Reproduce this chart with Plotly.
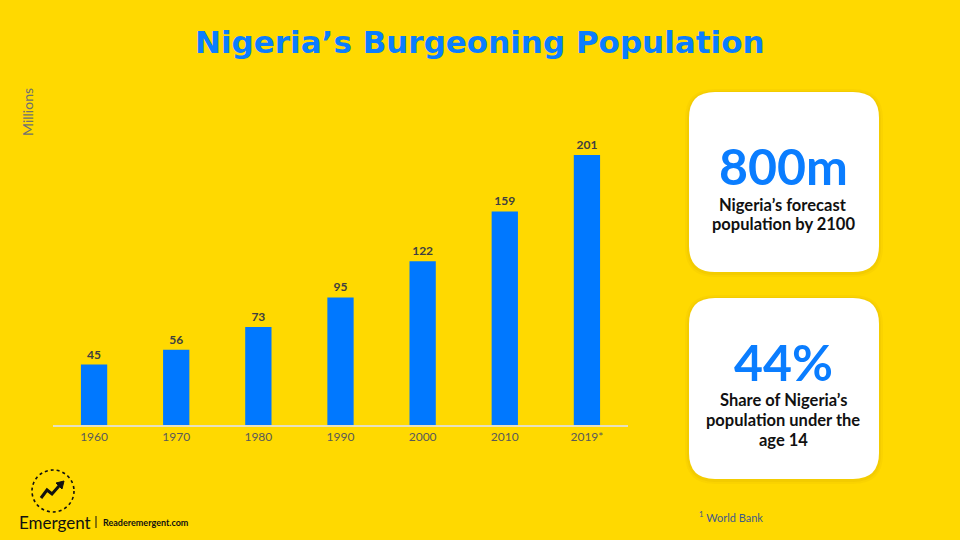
import plotly.graph_objects as go

years = ["1960", "1970", "1980", "1990", "2000", "2010", "2019*"]
population = [45, 56, 73, 95, 122, 159, 201]

title_text = "Nigeria’s Burgeoning Population"
card1_big = "800m"
card1_lines = ["Nigeria’s forecast", "population by 2100"]
card2_big = "44%"
card2_lines = ["Share of Nigeria’s", "population under the", "age 14"]

W, H = 960, 540
BG = "#FFD900"
BLUE = "#0A7DFF"
BAR_BLUE = "#0078FF"


def px(x):
    return x / W


def py(y):
    return 1 - y / H


def rounded_rect(x0, y0, x1, y1, r):
    X0, X1 = px(x0), px(x1)
    Y0, Y1 = py(y0), py(y1)
    rx, ry = r / W, r / H
    return (f"M {X0+rx},{Y0} L {X1-rx},{Y0} Q {X1},{Y0} {X1},{Y0-ry} "
            f"L {X1},{Y1+ry} Q {X1},{Y1} {X1-rx},{Y1} L {X0+rx},{Y1} "
            f"Q {X0},{Y1} {X0},{Y1+ry} L {X0},{Y0-ry} Q {X0},{Y0} {X0+rx},{Y0} Z")


fig = go.Figure()
fig.add_trace(go.Bar(
    x=years, y=population, width=0.32,
    marker=dict(color=BAR_BLUE, line=dict(width=0)),
    text=[str(v) for v in population], textposition="outside",
    textfont=dict(family="Lato", size=12, color="#404040", weight="bold"),
    cliponaxis=False, hoverinfo="skip",
))

shapes = []
for (x0, y0, x1, y1) in [(689, 92, 879, 272), (689, 298, 879, 479)]:
    for k, op in [(4, 0.05), (2, 0.07)]:
        shapes.append(dict(type="path", xref="paper", yref="paper",
                           path=rounded_rect(x0 - k, y0 - k + 1, x1 + k, y1 + k + 1, 26 + k),
                           fillcolor=f"rgba(150,120,0,{op})", line=dict(width=0), layer="below"))
    shapes.append(dict(type="path", xref="paper", yref="paper",
                       path=rounded_rect(x0, y0, x1, y1, 26),
                       fillcolor="white", line=dict(width=0), layer="below"))

cx, cy, r = 53, 491, 21
shapes.append(dict(type="circle", xref="paper", yref="paper",
                   x0=px(cx - r), x1=px(cx + r), y0=py(cy + r), y1=py(cy - r),
                   line=dict(color="#111111", width=1.6, dash="dot")))
pts = [(41, 498), (47, 490), (52, 494), (59, 486)]
path = "M " + " L ".join(f"{px(a)},{py(b)}" for a, b in pts)
shapes.append(dict(type="path", xref="paper", yref="paper", path=path,
                   line=dict(color="#111111", width=3)))
head = [(56, 483), (64, 481), (62, 489)]
shapes.append(dict(type="path", xref="paper", yref="paper",
                   path="M " + " L ".join(f"{px(a)},{py(b)}" for a, b in head) + " Z",
                   fillcolor="#111111", line=dict(color="#111111", width=1)))
shapes.append(dict(type="line", xref="paper", yref="paper",
                   x0=px(96), x1=px(96), y0=py(516), y1=py(528),
                   line=dict(color="#111111", width=1)))

annotations = [
    dict(text=f"<b>{title_text}</b>", x=px(480), y=py(42), xref="paper", yref="paper",
         showarrow=False, xanchor="center", yanchor="middle",
         font=dict(family="DejaVu Sans", size=31, color=BLUE)),
    dict(text="Millions", x=px(28), y=py(112), xref="paper", yref="paper",
         showarrow=False, textangle=-90, xanchor="center", yanchor="middle",
         font=dict(family="Lato", size=14, color="#707070")),
    dict(text=f"<b>{card1_big}</b>", x=px(783), y=py(166), xref="paper", yref="paper",
         showarrow=False, xanchor="center", yanchor="middle",
         font=dict(family="Lato", size=50, color=BLUE)),
    dict(text=f"<b>{card2_big}</b>", x=px(783), y=py(362), xref="paper", yref="paper",
         showarrow=False, xanchor="center", yanchor="middle",
         font=dict(family="Lato", size=50, color=BLUE)),
    dict(text="Emergent", x=px(17), y=py(522), xref="paper", yref="paper",
         showarrow=False, xanchor="left", yanchor="middle",
         font=dict(family="Lato", size=17, color="#111111")),
    dict(text="<b>Readeremergent.com</b>", x=px(101), y=py(522), xref="paper", yref="paper",
         showarrow=False, xanchor="left", yanchor="middle",
         font=dict(family="Lato", size=9, color="#111111")),
    dict(text="<sup>1</sup> World Bank", x=px(697), y=py(516), xref="paper", yref="paper",
         showarrow=False, xanchor="left", yanchor="middle",
         font=dict(family="Lato", size=11, color="#3F5A8A")),
]
for i, line in enumerate(card1_lines):
    annotations.append(dict(text=f"<b>{line}</b>", x=px(783), y=py(205 + 19 * i),
                            xref="paper", yref="paper", showarrow=False,
                            xanchor="center", yanchor="middle",
                            font=dict(family="Lato", size=16.5, color="#111111")))
for i, line in enumerate(card2_lines):
    annotations.append(dict(text=f"<b>{line}</b>", x=px(783), y=py(400 + 20 * i),
                            xref="paper", yref="paper", showarrow=False,
                            xanchor="center", yanchor="middle",
                            font=dict(family="Lato", size=16.5, color="#111111")))

fig.update_layout(
    width=W, height=H, margin=dict(l=0, r=0, t=0, b=0),
    paper_bgcolor=BG, plot_bgcolor=BG, showlegend=False,
    xaxis=dict(domain=[px(53), px(628)], range=[-0.5, 6.5], showline=True,
               linecolor="#E6E0C0", linewidth=1.5, ticks="", showgrid=False,
               tickfont=dict(family="Lato", size=12, color="#595959"),
               fixedrange=True),
    yaxis=dict(domain=[py(425), py(100)], range=[0, 242], visible=False,
               showgrid=False, zeroline=False, fixedrange=True),
    shapes=shapes, annotations=annotations, bargap=0.6,
)

fig.write_html("out.html", config={"displayModeBar": False},
               post_script="document.body.style.margin='0';")
